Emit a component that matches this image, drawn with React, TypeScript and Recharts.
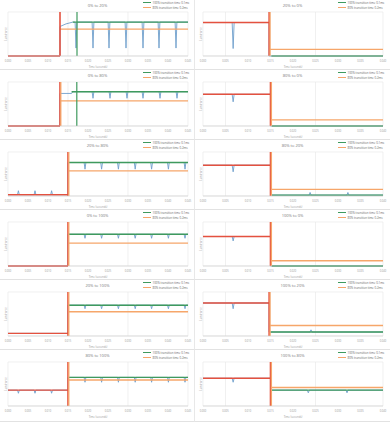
import React from 'react';
import { LineChart, Line, XAxis, YAxis, CartesianGrid, ReferenceLine } from 'recharts';

// panels in reading order: left column = rising, right column = falling
const TITLES = [
  '0% to 20%', '20% to 0%',
  '0% to 80%', '80% to 0%',
  '20% to 80%', '80% to 20%',
  '0% to 100%', '100% to 0%',
  '20% to 100%', '100% to 20%',
  '80% to 100%', '100% to 80%',
];

const LEGEND_100 = '100% transition time 0.1ms';
const LEGEND_80 = '80% transition time 0.2ms';

const LEFT_TICKS = [0, 0.005, 0.01, 0.015, 0.02, 0.025, 0.03, 0.035, 0.04, 0.045];
const RIGHT_TICKS = [0, 0.005, 0.01, 0.015, 0.02, 0.025, 0.03, 0.035, 0.04];
const Y_TICKS = [0, 16.67, 33.33, 50, 66.67, 83.33, 100];

// luminance before the transition (red)
const START = [0, 76, 0, 72, 3, 70, 0, 67, 6, 75, 36, 63];
// time of the transition
const STEP = [0.013, 0.0147, 0.013, 0.015, 0.015, 0.015, 0.015, 0.015, 0.015, 0.0147, 0.015, 0.015];
// 100% level (green) and when it starts
const GREEN = [77, 0, 78, 0, 76, 2, 72, 0, 70, 9, 65, 36];
const GREEN_FROM = [0.0162, 0.0152, 0.0159, 0.0153, 0.015, 0.0153, 0.015, 0.0153, 0.015, 0.015, 0.015, 0.0153];
// 80% level (orange)
const ORANGE = [61, 15, 57, 14, 57, 15, 52, 12, 55, 24, 59, 42];
// green marker lines (only on the slow rising panels)
const GREEN_MARK = [0.01725, null, 0.0172, null, null, null, null, null, null, null, null, null];

// measured luminance (blue): spikes before and after the transition
const PRE_DIPS: number[][][] = [
  [],
  [[0.0067, 17]],
  [],
  [[0.0067, 55]],
  [[0.0026, 12], [0.00675, 12], [0.0109, 12]],
  [[0.0067, 55]],
  [],
  [[0.0067, 57]],
  [],
  [[0.0067, 62]],
  [[0.0026, 29], [0.00675, 29], [0.0109, 29]],
  [[0.0067, 54]],
];
const RISE: number[][][] = [
  [[0.013, 67], [0.0145, 73], [0.0162, 77]],
  [],
  [[0.013, 74], [0.0159, 74], [0.0162, 78]],
  [], [], [], [], [], [], [], [], [],
];
const POST_DIPS: number[][][] = [
  [[0.017, 18], [0.02125, 18], [0.02525, 18], [0.0295, 18], [0.03375, 18], [0.03775, 18], [0.042, 18]],
  [],
  [[0.02125, 63], [0.0255, 63], [0.02975, 63], [0.03375, 63], [0.038, 63], [0.04225, 63]],
  [],
  [[0.01925, 61], [0.0234, 61], [0.0276, 61], [0.0318, 61], [0.0359, 61], [0.0401, 61], [0.04425, 61]],
  [[0.0238, 8], [0.0322, 8]],
  [[0.01925, 63], [0.0234, 63], [0.0276, 63], [0.0318, 63], [0.0359, 63], [0.0401, 63], [0.04425, 63]],
  [],
  [[0.01925, 62], [0.0234, 62], [0.0276, 62], [0.0318, 62], [0.0359, 62], [0.0401, 62], [0.04425, 62]],
  [[0.024, 14]],
  [[0.01925, 54], [0.0234, 54], [0.0276, 54], [0.0318, 54], [0.0359, 54], [0.0401, 54], [0.04425, 54]],
  [[0.0234, 30], [0.032, 30]],
];

const RED = '#e4513f';
const GREEN_C = '#3f9a5e';
const ORANGE_C = '#f6a66a';
const BLUE = '#6f9fcc';
const ROW_TOPS = [0, 70, 140, 210, 280, 350];
const ROW_H = [70, 70, 70, 70, 70, 72];
const HW = 0.00022; // half width of a spike

function blueData(i: number, xMax: number) {
  const s = START[i];
  const pts: { t: number; v: number }[] = [{ t: 0, v: s }];
  PRE_DIPS[i].forEach(([t, v]) => pts.push({ t: t - HW, v: s }, { t, v }, { t: t + HW, v: s }));
  pts.push({ t: STEP[i], v: s });
  RISE[i].forEach(([t, v]) => pts.push({ t, v }));
  if (!RISE[i].length) pts.push({ t: STEP[i], v: GREEN[i] });
  POST_DIPS[i].forEach(([t, v]) => pts.push({ t: t - HW, v: GREEN[i] }, { t, v }, { t: t + HW, v: GREEN[i] }));
  pts.push({ t: xMax, v: GREEN[i] });
  return pts;
}

function Panel({ i }: { i: number }) {
  const col = i % 2;
  const row = Math.floor(i / 2);
  const h = ROW_H[row];
  const ticks = col === 0 ? LEFT_TICKS : RIGHT_TICKS;
  const xMax = ticks[ticks.length - 1];
  const red = [{ t: 0, v: START[i] }, { t: STEP[i], v: START[i] }];
  const green = [{ t: GREEN_FROM[i], v: GREEN[i] }, { t: xMax, v: GREEN[i] }];
  const orange = [{ t: STEP[i], v: ORANGE[i] }, { t: xMax, v: ORANGE[i] }];
  const stepColor = row === 0 && col === 0 ? RED : ORANGE_C;

  return (
    <div style={{
      position: 'absolute', left: col * 195, top: ROW_TOPS[row], width: 195, height: h,
      borderBottom: '1px solid #e2e2e2', borderRight: col === 0 ? '1px solid #e8e8e8' : 'none',
      boxSizing: 'border-box', background: '#fff',
    }}>
      <LineChart width={195} height={h} margin={{ top: 12, right: 7, left: 2, bottom: 0 }}>
        <CartesianGrid stroke="#e6e6e6" strokeWidth={0.6} />
        <XAxis type="number" dataKey="t" domain={[0, xMax]} ticks={ticks} allowDataOverflow
          height={h - 56} tickFormatter={(v: number) => v.toFixed(3)}
          tick={{ fontSize: 2.6, fill: '#999' }} tickLine={false} tickSize={2}
          axisLine={{ stroke: '#cfcfcf', strokeWidth: 0.6 }}
          label={{ value: 'Time (seconds)', position: 'insideBottom', offset: h - 68, fontSize: 2.7, fill: '#999' }} />
        <YAxis type="number" domain={[0, 100]} ticks={Y_TICKS} width={6} tick={false}
          axisLine={false} tickLine={false}
          label={{ value: 'Luminance', angle: -90, position: 'center', dx: 1.5, fontSize: 2.6, fill: '#999' }} />
        <Line data={blueData(i, xMax)} dataKey="v" stroke={BLUE} strokeWidth={0.9} dot={false} isAnimationActive={false} />
        <Line data={orange} dataKey="v" stroke={ORANGE_C} strokeWidth={1.4} dot={false} isAnimationActive={false} />
        <Line data={green} dataKey="v" stroke={GREEN_C} strokeWidth={1.4} dot={false} isAnimationActive={false} />
        <Line data={red} dataKey="v" stroke={RED} strokeWidth={1.4} dot={false} isAnimationActive={false} />
        <ReferenceLine x={STEP[i]} stroke={RED} strokeWidth={1.6} />
        {stepColor !== RED && <ReferenceLine x={STEP[i] + 0.0002} stroke={ORANGE_C} strokeWidth={1.3} />}
        {GREEN_MARK[i] != null && <ReferenceLine x={GREEN_MARK[i] as number} stroke={GREEN_C} strokeWidth={1.2} />}
      </LineChart>
      <svg width={195} height={12} style={{ position: 'absolute', left: 0, top: 0 }}>
        <text x={97.5} y={6.6} textAnchor="middle" fontSize={4} fill="#777">{TITLES[i]}</text>
        <line x1={143} x2={151} y1={2.5} y2={2.5} stroke={GREEN_C} strokeWidth={1} />
        <text x={152.5} y={3.5} fontSize={2.9} fill="#666">{LEGEND_100}</text>
        <line x1={143} x2={151} y1={7.5} y2={7.5} stroke={ORANGE_C} strokeWidth={1} />
        <text x={152.5} y={8.5} fontSize={2.9} fill="#666">{LEGEND_80}</text>
      </svg>
    </div>
  );
}

export default function App() {
  return (
    <div style={{ position: 'absolute', left: 0, top: 0, width: 390, height: 422, background: '#fff', fontFamily: '"Open Sans", sans-serif' }}>
      {TITLES.map((_, i) => <Panel key={i} i={i} />)}
    </div>
  );
}
